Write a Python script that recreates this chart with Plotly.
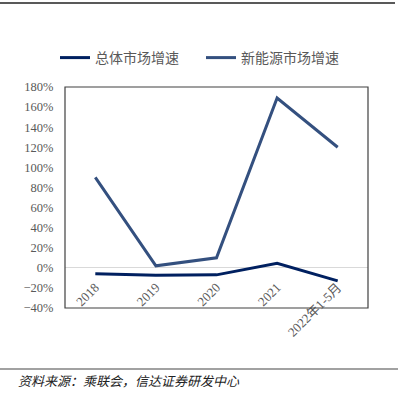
import plotly.graph_objects as go

categories = ["2018", "2019", "2020", "2021", "2022年1-5月"]
overall_growth = [-6, -7.5, -7, 4.5, -13]
nev_growth = [90, 2, 10, 169, 120]
series_names = ["总体市场增速", "新能源市场增速"]
y_ticks = list(range(-40, 181, 20))
y_tick_text = [(f"\u2212{abs(v)}%" if v < 0 else f"{v}%") for v in y_ticks]

W, H = 398, 394
L, R, T, B = 65, 30, 87, 86
pw, ph = W - L - R, H - T - B

def px_x(x):
    return (x - L) / pw

def px_y(y):
    return (H - B - y) / ph

fig = go.Figure()
fig.add_trace(go.Scatter(x=categories, y=overall_growth, mode="lines", name=series_names[0],
                         line=dict(color="#002060", width=3)))
fig.add_trace(go.Scatter(x=categories, y=nev_growth, mode="lines", name=series_names[1],
                         line=dict(color="#34507F", width=3)))

serif = "Liberation Serif, Noto Sans CJK SC, serif"
zero_pos = (0 - (-40)) / 220

fig.update_layout(
    width=W, height=H,
    margin=dict(l=L, r=R, t=T, b=B),
    paper_bgcolor="white", plot_bgcolor="white",
    showlegend=True,
    legend=dict(orientation="h", x=px_x(55), y=px_y(58), xanchor="left", yanchor="middle",
                font=dict(family="Noto Sans CJK SC", size=14, color="#595959"),
                itemwidth=30, tracegroupgap=0, entrywidth=101, entrywidthmode="pixels"),
    xaxis=dict(type="category", range=[-0.5, 4.5], anchor="free", position=zero_pos,
               showline=False, showgrid=False, zeroline=False,
               ticks="outside", ticklen=6, tickcolor="rgba(0,0,0,0)", tickangle=-45,
               tickfont=dict(family=serif, size=13, color="#595959")),
    yaxis=dict(range=[-40, 180], tickvals=y_ticks, ticktext=y_tick_text,
               showgrid=False, zeroline=True, zerolinecolor="#D9D9D9", zerolinewidth=1,
               showline=False, ticks="outside", ticklen=8, tickcolor="rgba(0,0,0,0)",
               tickfont=dict(family=serif, size=12.5, color="#595959")),
    shapes=[
        dict(type="rect", xref="paper", yref="paper", x0=0, x1=1, y0=0, y1=1,
             line=dict(color="#404040", width=1.2)),
        dict(type="line", xref="paper", yref="paper", x0=px_x(0), x1=px_x(395),
             y0=px_y(3), y1=px_y(3), line=dict(color="#222222", width=1.5)),
        dict(type="line", xref="paper", yref="paper", x0=px_x(0), x1=px_x(398),
             y0=px_y(369), y1=px_y(369), line=dict(color="#444444", width=1.2)),
    ],
    annotations=[
        dict(text="<i>资料来源：乘联会，信达证券研发中心</i>", xref="paper", yref="paper",
             x=px_x(16), y=px_y(380), xanchor="left", yanchor="middle", showarrow=False,
             font=dict(family="Noto Sans CJK SC", size=13, color="#222222")),
    ],
)

fig.write_html("out.html")
